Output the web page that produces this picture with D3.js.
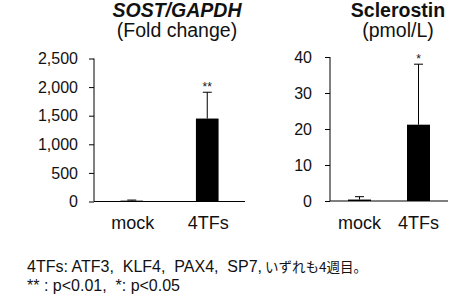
<!DOCTYPE html>
<html>
<head>
<meta charset="utf-8">
<script src="https://cdn.jsdelivr.net/npm/d3@7"></script>
<style>
body { margin: 0; background: #fff; }
svg text { font-family: "Liberation Sans", Arial, sans-serif; fill: #111; }
</style>
</head>
<body>
<div id="chart"></div>
<script>
const categories = ['mock', '4TFs'];

// SOST/GAPDH fold change
const sostValues = [15, 1450];
const sostErrors = [10, 460];
const sostStars = ['', '**'];
const sostTicks = [0, 500, 1000, 1500, 2000, 2500];

// Sclerostin pmol/L
const sclValues = [0.4, 21.2];
const sclErrors = [0.8, 16.8];
const sclStars = ['', '*'];
const sclTicks = [0, 10, 20, 30, 40];

// footnote: latin part, japanese part
const note1 = ['4TFs: ATF3,  KLF4,  PAX4,  SP7,', 'いずれも4週目。'];
const note2 = '** : p<0.01,  *: p<0.05';

const svg = d3.select('#chart').append('svg')
    .attr('width', 470)
    .attr('height', 299);

function drawPanel(opt) {
    var x = d3.scaleBand().domain(categories)
        .range([opt.left, opt.right])
        .paddingInner(opt.padIn)
        .paddingOuter(opt.padOut);
    var y = d3.scaleLinear().domain([0, opt.max]).range([opt.bottom, opt.top]);

    var g = svg.append('g');

    // y axis
    var ya = g.append('g')
        .attr('transform', 'translate(' + opt.left + ',0)')
        .call(d3.axisLeft(y).tickValues(opt.ticks).tickSize(5).tickPadding(opt.tickPad).tickFormat(d3.format(',')));
    ya.select('.domain').attr('d', 'M0,' + y(opt.max) + 'V' + opt.bottom);
    ya.selectAll('text').style('font-size', '16px').style('fill', '#111');

    // x axis line
    g.append('line')
        .attr('x1', opt.left).attr('x2', opt.right)
        .attr('y1', opt.bottom).attr('y2', opt.bottom)
        .attr('stroke', '#000');

    var data = categories.map(function(c, i) {
        return {cat: c, v: opt.values[i], e: opt.errors[i], s: opt.stars[i]};
    });

    // error bars (upper only)
    g.selectAll('.err').data(data).enter().append('path')
        .attr('class', 'err')
        .attr('fill', 'none')
        .attr('stroke', '#000')
        .attr('d', function(d) {
            var cx = x(d.cat) + x.bandwidth() / 2;
            var yt = y(d.v + d.e);
            return 'M' + cx + ',' + y(d.v) + 'V' + yt + 'M' + (cx - 4.5) + ',' + yt + 'H' + (cx + 4.5);
        });

    g.selectAll('.bar').data(data).enter().append('rect')
        .attr('class', 'bar')
        .attr('x', function(d) { return x(d.cat); })
        .attr('width', x.bandwidth())
        .attr('y', function(d) { return y(d.v); })
        .attr('height', function(d) { return opt.bottom - y(d.v); })
        .attr('fill', '#000');

    g.selectAll('.star').data(data).enter().append('text')
        .attr('class', 'star')
        .attr('x', function(d) { return x(d.cat) + x.bandwidth() / 2; })
        .attr('y', function(d) { return y(d.v + d.e) - 1; })
        .attr('text-anchor', 'middle')
        .style('font-size', '12px')
        .text(function(d) { return d.s; });

    g.selectAll('.xlab').data(data).enter().append('text')
        .attr('class', 'xlab')
        .attr('x', function(d) { return x(d.cat) + x.bandwidth() / 2 + opt.labShift; })
        .attr('y', 229)
        .attr('text-anchor', 'middle')
        .style('font-size', '18px')
        .text(function(d) { return d.cat; });

    g.append('text')
        .attr('x', opt.titleX).attr('y', 17)
        .attr('text-anchor', 'middle')
        .style('font-size', '19.5px')
        .style('font-weight', 'bold')
        .style('font-style', opt.italic ? 'italic' : 'normal')
        .text(opt.title);
    g.append('text')
        .attr('x', opt.titleX).attr('y', 37)
        .attr('text-anchor', 'middle')
        .style('font-size', '19.5px')
        .text(opt.unit);
}

drawPanel({
    left: 94, right: 245, top: 58.5, bottom: 201.5, max: 2500,
    padIn: 0.7, padOut: 0.35, tickPad: 11,
    values: sostValues, errors: sostErrors, stars: sostStars, ticks: sostTicks,
    title: 'SOST/GAPDH', unit: '(Fold change)', titleX: 177, italic: true, labShift: 1
});

drawPanel({
    left: 330, right: 448, top: 57, bottom: 201, max: 40,
    padIn: 0.61, padOut: 0.305, tickPad: 13,
    values: sclValues, errors: sclErrors, stars: sclStars, ticks: sclTicks,
    title: 'Sclerostin', unit: '(pmol/L)', titleX: 398, italic: false, labShift: 0
});

var t1 = svg.append('text')
    .attr('x', 27).attr('y', 272)
    .style('font-size', '16px')
    .style('white-space', 'pre');
t1.append('tspan').text(note1[0]);
t1.append('tspan').attr('dx', 3).style('font-size', '13.5px').style('font-family', '"Noto Sans CJK JP", sans-serif').text(note1[1]);

svg.append('text')
    .attr('x', 27).attr('y', 291)
    .style('font-size', '16px')
    .style('white-space', 'pre')
    .text(note2);
</script>
</body>
</html>
